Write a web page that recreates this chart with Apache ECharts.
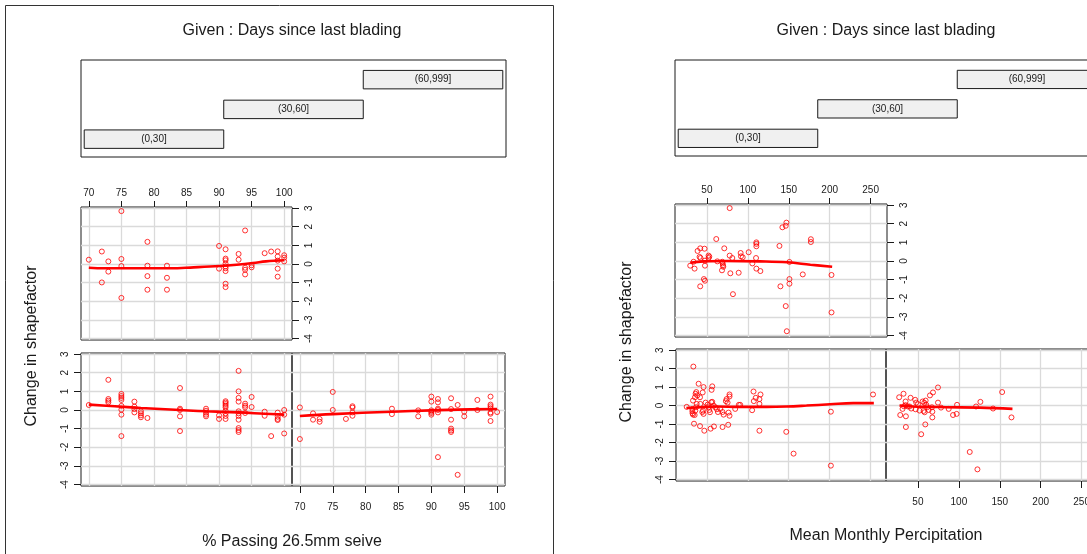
<!DOCTYPE html>
<html>
<head>
<meta charset="utf-8">
<title>Coplot: change in shapefactor</title>
<script src="https://cdn.jsdelivr.net/npm/echarts@6/dist/echarts.min.js"></script>
<style>
  html, body { margin: 0; padding: 0; background: #fff; }
  #chart { width: 1087px; height: 554px; }
</style>
</head>
<body>
<div id="chart"></div>
<script>
// given variable: days since last blading
var givenLevels = ['(0,30]', '(30,60]', '(60,999]'];

// tick labels
var yTicks = [-4, -3, -2, -1, 0, 1, 2, 3];
var passTicks = [70, 75, 80, 85, 90, 95, 100];
var rainTicks = [50, 100, 150, 200, 250];

// % passing 26.5mm seive vs change in shapefactor
var pass0 = [[70,0.27],[73,1.62],[73,0.59],[73,0.5],[73,0.41],[75,0.86],[75,0.75],[75,0.65],[75,0.54],[75,0.22],[75,0.02],[75,-0.25],[75,-1.4],
  [77,0.45],[77,0.18],[77,0.05],[77,-0.13],[78,-0.07],[78,-0.18],[78,-0.29],[78,-0.39],[79,-0.43],[84,1.18],[84,0.07],[84,0],[84,-0.34],[84,-1.13],
  [88,0.07],[88,-0.04],[88,-0.14],[88,-0.25],[88,-0.34],[90,-0.29],[90,-0.48],[91,0.47],[91,0.4],[91,0.32],[91,0.23],[91,0.14],[91,-0.04],[91,-0.18],
  [91,-0.32],[91,-0.48],[93,2.1],[93,1.0],[93,0.65],[93,0.45],[93,-0.07],[93,-0.18],[93,-0.32],[93,-0.52],[93,-0.97],[93,-1.08],[93,-1.18],
  [94,0.34],[94,0.23],[94,0.14],[94,-0.16],[95,0.7],[95,0.16],[97,-0.09],[97,-0.31],[98,-1.4],[99,-0.14],[99,-0.36],[99,-0.48],[99,-0.54],
  [100,0],[100,-0.25],[100,-1.26]];
var pass30 = [[70,0.14],[70,-1.56],[72,-0.18],[72,-0.52],[73,-0.48],[73,-0.63],[75,0.97],[75,0],[77,-0.48],[78,0.2],[78,0.13],[78,-0.13],[78,-0.31],
  [84,0.07],[84,-0.22],[88,-0.02],[88,-0.34],[90,0.72],[90,0.45],[90,-0.02],[90,-0.09],[90,-0.16],[90,-0.25],[91,0.59],[91,0.41],[91,0.07],[91,0],
  [91,-0.13],[91,-2.53],[93,0.63],[93,0.05],[93,-0.52],[93,-1.0],[93,-1.1],[93,-1.18],[94,0.27],[94,-3.48],[95,-0.09],[95,-0.34],[97,0.54],[97,0],
  [99,0.72],[99,0.29],[99,0.2],[99,0.09],[99,-0.13],[99,-0.2],[99,-0.59],[100,-0.11]];
var pass60 = [[70,0.23],[72,0.67],[72,-0.99],[73,0.14],[73,-0.41],[75,2.84],[75,0.27],[75,-0.11],[75,-1.82],[79,1.19],[79,-0.09],[79,-0.65],[79,-1.38],
  [82,-0.09],[82,-0.74],[82,-1.38],[90,0.97],[90,-0.25],[91,0.79],[91,0.29],[91,0.2],[91,0.02],[91,-0.13],[91,-0.23],[91,-0.38],[91,-1.06],[91,-1.24],
  [93,0.54],[93,0.23],[94,1.8],[94,-0.2],[94,-0.31],[94,-0.56],[95,-0.07],[95,-0.18],[97,0.58],[98,0.67],[99,0.68],[99,0.4],[99,0.18],[99,-0.25],
  [99,-0.68],[100,0.47],[100,0.34],[100,0.14]];

// smooth curves
var passSmooth0 = [[70,0.29],[74,0.2],[78,0.11],[84,0],[88,-0.07],[93,-0.13],[97,-0.2],[100,-0.25]];
var passSmooth30 = [[70,-0.32],[75,-0.22],[84,-0.09],[90,-0.02],[94,0.02],[100,0.05]];
var passSmooth60 = [[70,-0.2],[72.4,-0.23],[75.9,-0.23],[82.5,-0.23],[86.1,-0.18],[90.1,-0.11],[92.7,-0.04],[95.2,0.05],[97.2,0.14],[98.7,0.18],[100,0.2]];

// mean monthly percipitation vs change in shapefactor
var rain0 = [[24.2,-0.07],[32.4,2.11],[32,0.27],[33.2,-0.98],[31,-0.18],[31.2,-0.31],[31.4,-0.42],[32,-0.49],[34,-0.51],[34.8,-0.27],[35.7,-0.09],
  [36.5,0.09],[34.4,0.45],[35.2,0.64],[36,0.73],[37.3,0.55],[38.9,1.18],[40.6,0.45],[41,0.09],[40.6,-1.11],[43.9,0.71],[45,1.0],[45,-0.45],
  [44.3,-0.27],[43.4,-0.35],[45.9,-1.36],[47.5,0.16],[50,0.05],[51.2,-0.09],[52,-0.24],[52.9,-0.36],[54.9,0.85],[55.7,1.04],[54.5,0.18],[55.7,0.2],
  [53.7,-1.25],[57.8,-1.13],[57.4,0],[59.4,-0.09],[61.5,-0.2],[62.7,-0.35],[65.6,-0.18],[68.4,-0.35],[69.7,-0.49],[68.4,-1.16],[72.5,0.24],
  [74.6,0.16],[73.4,0.35],[77,0.6],[77,0.49],[75.8,-0.38],[77,-0.55],[75.4,-1.04],[84,-0.18],[88.5,0.04],[90.2,0.04],[104.9,-0.25],[106.6,0.76],
  [107,0.24],[109.4,0.42],[113.9,0.09],[113.9,0.35],[115.2,0.6],[113.9,-1.36],[147,-1.42],[156,-2.6],[202,-0.33],[202,-3.25],[254,0.6]];
var rain30 = [[27.1,0.45],[28.4,-0.51],[32.4,0.64],[31.2,-0.18],[32.9,-0.04],[34.9,0.22],[34.9,0.02],[35.3,-0.58],[35.3,-1.16],[37.8,-0.05],
  [39.8,-0.05],[41,0.42],[41.8,-0.16],[46.7,0.31],[47.9,0.16],[47.1,-0.2],[50,0.07],[52,-0.27],[54,-1.55],[55.7,0.22],[56.9,-0.29],[58.2,-0.36],
  [57.8,0.15],[59.4,0.27],[59,-1.02],[60.2,0.04],[61.4,-0.09],[63.1,-0.24],[64.7,0.55],[67.1,-0.09],[67.6,-0.33],[67.6,-0.64],[68.4,0.71],
  [74.5,0.98],[74.5,0.16],[78.2,-0.11],[87.6,-0.18],[92.9,-0.51],[97.3,-0.45],[97.8,0.04],[113.3,-2.51],[121,-0.05],[122.7,-3.45],[126.3,0.2],
  [141.8,-0.16],[152.9,0.73],[164.3,-0.64]];
var rain60 = [[29.6,-0.25],[33.7,-0.04],[34.9,-0.41],[38.6,0.54],[41.8,0.68],[41,0.22],[42.2,0.16],[41.8,-1.36],[47.1,0.66],[47.6,0.02],
  [47.6,-0.25],[46.3,-0.97],[47.6,-1.06],[52,0.29],[52,0.16],[52.9,0.23],[61.4,1.18],[62.7,-0.02],[68.8,-0.04],[69.2,-0.13],[69.6,-0.23],
  [70,-0.31],[68.4,-0.5],[71.2,0.68],[77.8,0.29],[78.6,-0.66],[77.8,2.84],[81,0.16],[81.8,-1.78],[88.8,-0.63],[91.2,0.43],[91.6,0.25],[93.7,0.2],
  [101,0.47],[105.5,-0.13],[110.4,1.0],[110.4,0.92],[110.4,0.79],[110,0.16],[110.4,-0.41],[115.3,-0.54],[138.6,0.81],[139.8,-1.36],[142.2,1.81],
  [146.3,1.89],[147.1,2.06],[146.3,-2.42],[147.6,-3.77],[150.8,-0.05],[150.8,-0.97],[150.8,-1.22],[167.1,-0.72],[177,1.17],[177,1.02],
  [202.2,-0.75],[202.2,-2.76]];

var rainSmooth0 = [[23.8,-0.13],[41,-0.09],[61.5,-0.05],[90,-0.07],[123,-0.07],[147.5,-0.05],[172,0],[201,0.07],[229.5,0.13],[255,0.13]];
var rainSmooth30 = [[27.5,0],[43.9,-0.05],[64.3,-0.07],[84.7,-0.09],[125.5,-0.11],[165.5,-0.18]];
var rainSmooth60 = [[29.6,-0.09],[46,-0.02],[74.5,0],[115,-0.02],[148,-0.07],[176.5,-0.2],[203,-0.31]];

var font = '"Liberation Sans", Arial, sans-serif';
var ink = '#1a1a1a';
var yRange = [-4.08, 3.06];

var grids = [], xAxes = [], yAxes = [], series = [];

// one coplot panel: box = [left, top, width, height]
function addPanel(box, xRange, xTicks, pts, curve, xPos, yPos) {
    var i = grids.length;
    grids.push({
        left: box[0], top: box[1], width: box[2], height: box[3],
        show: true, borderColor: ink, borderWidth: 1, backgroundColor: 'transparent',
        outerBoundsMode: 'none'
    });
    xAxes.push({
        type: 'value', gridIndex: i, min: xRange[0], max: xRange[1],
        position: xPos || 'bottom',
        axisLine: { show: false, onZero: false },
        axisTick: { show: !!xPos, customValues: xTicks, length: xPos === 'top' ? 6 : 7, lineStyle: { color: ink } },
        axisLabel: { show: !!xPos, customValues: xTicks, fontSize: 10, color: ink, fontFamily: font,
                     margin: xPos === 'top' ? 9 : 16 },
        splitLine: { show: false }
    });
    yAxes.push({
        type: 'value', gridIndex: i, min: yRange[0], max: yRange[1],
        position: yPos || 'left',
        axisLine: { show: false, onZero: false },
        axisTick: { show: !!yPos, customValues: yTicks, length: 7, lineStyle: { color: ink } },
        axisLabel: { show: !!yPos, customValues: yTicks, fontSize: 10, color: ink, fontFamily: font,
                     rotate: 90, margin: yPos === 'right' ? 12 : 11 },
        splitLine: { show: false }
    });
    // light grid at the tick values
    series.push({
        type: 'line', xAxisIndex: i, yAxisIndex: i, data: [], silent: true, z: 1,
        markLine: {
            silent: true, symbol: 'none', z: 1, animation: false,
            label: { show: false },
            lineStyle: { color: '#dadada', width: 1.3, type: 'solid' },
            emphasis: { disabled: true },
            data: xTicks.map(function (v) { return { xAxis: v }; })
                .concat(yTicks.map(function (v) { return { yAxis: v }; }))
        }
    });
    series.push({
        type: 'scatter', xAxisIndex: i, yAxisIndex: i, data: pts, silent: true, z: 3,
        symbol: 'circle', symbolSize: 5,
        itemStyle: { color: 'rgba(0,0,0,0)', borderColor: '#ff0000', borderWidth: 1 }
    });
    series.push({
        type: 'line', xAxisIndex: i, yAxisIndex: i, data: curve, silent: true,
        smooth: 0.4, showSymbol: false, z: 4,
        lineStyle: { color: '#ff0000', width: 2.6 }
    });
}

// the "given" panel with one bar per interval
function addGiven(box) {
    var i = grids.length;
    grids.push({
        left: box[0], top: box[1], width: box[2], height: box[3],
        show: true, borderColor: ink, borderWidth: 1, backgroundColor: 'transparent',
        outerBoundsMode: 'none'
    });
    xAxes.push({ type: 'value', gridIndex: i, min: 0.477, max: 3.523, show: false });
    yAxes.push({ type: 'value', gridIndex: i, min: 0.4, max: 3.66, show: false });
    series.push({
        type: 'custom', xAxisIndex: i, yAxisIndex: i, silent: true,
        data: givenLevels.map(function (l, k) { return [k + 1]; }),
        renderItem: function (params, api) {
            var lvl = api.value(0);
            var a = api.coord([lvl - 0.5, lvl + 0.31]);
            var b = api.coord([lvl + 0.5, lvl - 0.31]);
            return {
                type: 'rect',
                shape: { x: a[0], y: a[1], width: b[0] - a[0], height: b[1] - a[1] },
                style: { fill: '#f0f0f0', stroke: ink, lineWidth: 1 },
                textContent: { style: { text: givenLevels[params.dataIndex], fontSize: 10, fontFamily: font, fill: ink } },
                textConfig: { position: 'inside' }
            };
        }
    });
}

// left coplot: % passing
addGiven([81, 60, 425, 97]);
addPanel([81, 207, 211, 133], [68.8, 101.2], passTicks, pass60, passSmooth60, 'top', 'right');
addPanel([81, 353, 211, 133], [68.8, 101.2], passTicks, pass0, passSmooth0, null, 'left');
addPanel([292, 353, 213, 133], [68.8, 101.2], passTicks, pass30, passSmooth30, 'bottom', null);

// right coplot: precipitation
addGiven([675, 60, 425, 96]);
addPanel([675, 204, 212, 133], [11, 270], rainTicks, rain60, rainSmooth60, 'top', 'right');
addPanel([676, 349, 210, 132], [11, 270], rainTicks, rain0, rainSmooth0, null, 'left');
addPanel([886, 349, 212, 132], [11, 270], rainTicks, rain30, rainSmooth30, 'bottom', null);

function label(text, x, y, rot) {
    return {
        type: 'text', x: x, y: y, rotation: rot || 0, silent: true,
        style: { text: text, fontSize: 16, fontFamily: font, fill: ink, textAlign: 'center', textVerticalAlign: 'middle' }
    };
}

var chart = echarts.init(document.getElementById('chart'), null, { renderer: 'canvas' });
chart.setOption({
    animation: false,
    backgroundColor: '#ffffff',
    grid: grids,
    xAxis: xAxes,
    yAxis: yAxes,
    series: series,
    graphic: [
        { type: 'rect', silent: true, shape: { x: 5.5, y: 5.5, width: 548, height: 600 },
          style: { fill: 'none', stroke: '#333', lineWidth: 1 } },
        label('Given : Days since last blading', 292, 31),
        label('Change in shapefactor', 32, 346, Math.PI / 2),
        label('% Passing 26.5mm seive', 292, 542),
        label('Given : Days since last blading', 886, 31),
        label('Change in shapefactor', 627, 342, Math.PI / 2),
        label('Mean Monthly Percipitation', 886, 536)
    ]
});
</script>
</body>
</html>
